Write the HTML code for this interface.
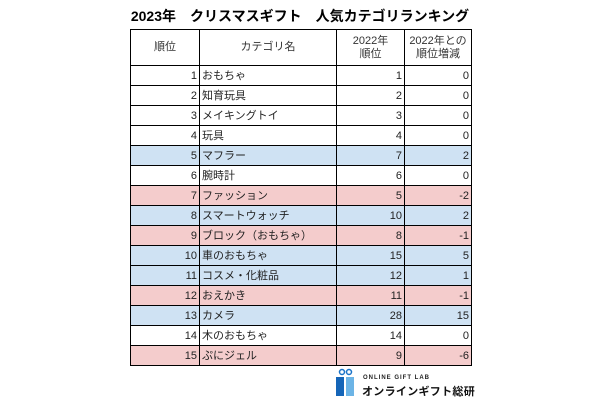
<!DOCTYPE html>
<html><head><meta charset="utf-8"><style>
body{margin:0;width:600px;height:400px;background:#fff;font-family:"Liberation Sans","Noto Sans CJK JP",sans-serif;position:relative;overflow:hidden}
.t{position:absolute;top:6px;left:0;width:600px;text-align:center;font-weight:bold;font-size:14px;color:#000}
table{position:absolute;left:130px;top:29px;border-collapse:collapse;font-size:11px;color:#222}
td{border:1px solid #000;height:19px;padding:0 2px;line-height:12px}
tr.h td{height:35px;text-align:center;color:#333;line-height:13px}
td.r{text-align:right}
tr.b td{background:#cfe2f3}tr.p td{background:#f4cccc}
</style></head><body>
<div class="t">2023年　クリスマスギフト　人気カテゴリランキング</div>
<table>
<colgroup><col style="width:69px"><col style="width:137px"><col style="width:68px"><col style="width:67px"></colgroup>
<tr class="h"><td>順位</td><td>カテゴリ名</td><td>2022年<br>順位</td><td>2022年との<br>順位増減</td></tr>
<tr><td class="r">1</td><td>おもちゃ</td><td class="r">1</td><td class="r">0</td></tr>
<tr><td class="r">2</td><td>知育玩具</td><td class="r">2</td><td class="r">0</td></tr>
<tr><td class="r">3</td><td>メイキングトイ</td><td class="r">3</td><td class="r">0</td></tr>
<tr><td class="r">4</td><td>玩具</td><td class="r">4</td><td class="r">0</td></tr>
<tr class="b"><td class="r">5</td><td>マフラー</td><td class="r">7</td><td class="r">2</td></tr>
<tr><td class="r">6</td><td>腕時計</td><td class="r">6</td><td class="r">0</td></tr>
<tr class="p"><td class="r">7</td><td>ファッション</td><td class="r">5</td><td class="r">-2</td></tr>
<tr class="b"><td class="r">8</td><td>スマートウォッチ</td><td class="r">10</td><td class="r">2</td></tr>
<tr class="p"><td class="r">9</td><td>ブロック（おもちゃ）</td><td class="r">8</td><td class="r">-1</td></tr>
<tr class="b"><td class="r">10</td><td>車のおもちゃ</td><td class="r">15</td><td class="r">5</td></tr>
<tr class="b"><td class="r">11</td><td>コスメ・化粧品</td><td class="r">12</td><td class="r">1</td></tr>
<tr class="p"><td class="r">12</td><td>おえかき</td><td class="r">11</td><td class="r">-1</td></tr>
<tr class="b"><td class="r">13</td><td>カメラ</td><td class="r">28</td><td class="r">15</td></tr>
<tr><td class="r">14</td><td>木のおもちゃ</td><td class="r">14</td><td class="r">0</td></tr>
<tr class="p"><td class="r">15</td><td>ぷにジェル</td><td class="r">9</td><td class="r">-6</td></tr>
</table>
<svg style="position:absolute;left:334px;top:368px" width="24" height="30"><circle cx="8" cy="4" r="2.5" fill="none" stroke="#1a73c8" stroke-width="1.5"/><circle cx="15" cy="4" r="2.5" fill="none" stroke="#1a73c8" stroke-width="1.5"/><rect x="2" y="9" width="8" height="19" fill="#1565b8"/><rect x="12" y="9" width="8" height="19" fill="#6cb4e6"/></svg>
<div style="position:absolute;left:363px;top:375px;font-size:6px;font-weight:bold;letter-spacing:1px;color:#222">ONLINE GIFT LAB</div>
<div style="position:absolute;left:362px;top:383px;font-size:11px;font-weight:bold;color:#111;letter-spacing:0.3px">オンラインギフト総研</div>
</body></html>
